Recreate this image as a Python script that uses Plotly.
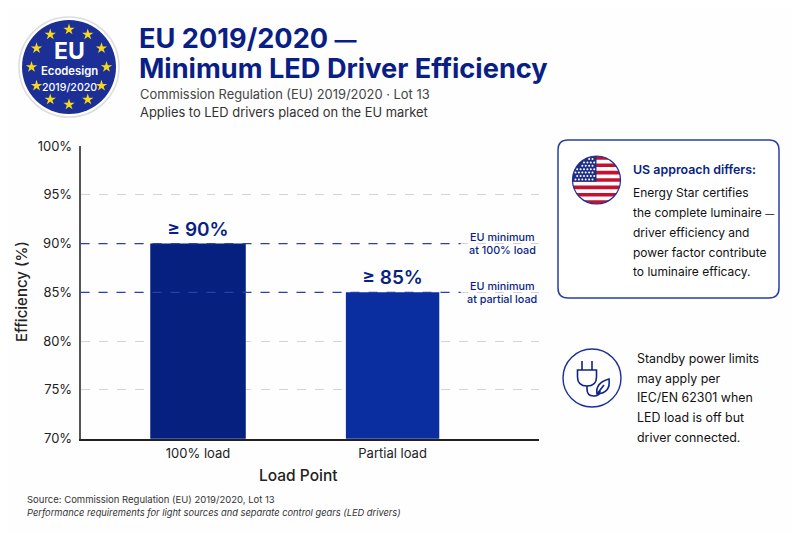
"""
EU 2019/2020 minimum LED driver efficiency chart with logo, flag and side notes.
"""
import math
import plotly.graph_objects as go

# Chart data
load_points = ["100% load", "Partial load"]
min_efficiency = [90, 85]
value_labels = ["≥ 90%", "≥ 85%"]
bar_colors = ["#06207f", "#0a2ea0"]
bar_widths = [0.491, 0.48]
y_ticks = [70, 75, 80, 85, 90, 95, 100]
y_tick_labels = ["70%", "75%", "80%", "85%", "90%", "95%", "100%"]
threshold_names = [["EU minimum", "at 100% load"], ["EU minimum", "at partial load"]]

# Texts
title_lines = ['EU 2019/2020 <span style="font-size:22px">—</span>', "Minimum LED Driver Efficiency"]
subtitle_lines = ["Commission Regulation (EU) 2019/2020 · Lot 13",
                  "Applies to LED drivers placed on the EU market"]
us_title = "US approach differs:"
us_lines = ["Energy Star certifies", 'the complete luminaire <span style="font-size:9px">—</span>',
            "driver efficiency and", "power factor contribute", "to luminaire efficacy."]
standby_lines = ["Standby power limits", "may apply per", "IEC/EN 62301 when",
                 "LED load is off but", "driver connected."]
source_text = "Source: Commission Regulation (EU) 2019/2020, Lot 13"
note_text = "Performance requirements for light sources and separate control gears (LED drivers)"

NAVY = "#0a1f85"
FONT = "Inter"
# the page body has an 8px margin, so the figure is 8px smaller and everything below
# is written in window pixels
PAGE_W, PAGE_H, OFFSET = 800, 533, 8
W, H = PAGE_W - OFFSET, PAGE_H - OFFSET

fig = go.Figure()

fig.add_trace(go.Bar(
    x=load_points, y=min_efficiency, width=bar_widths,
    marker=dict(color=bar_colors, line=dict(width=0)),
    text=value_labels, textposition="outside", cliponaxis=False,
    textfont=dict(family=FONT, size=19, color=NAVY, weight=600),
    hoverinfo="skip", showlegend=False,
))


def text(x, y, s, size, color="#111111", weight=400, anchor="left", italic=False, angle=0):
    """Place a text in window pixels (overlay axes run in pixels)."""
    fig.add_annotation(
        x=x, y=y, xref="x2", yref="y2", text=s, showarrow=False, xanchor=anchor,
        yanchor="middle", borderpad=0, textangle=angle,
        font=dict(family=FONT, size=size, color=color, weight=weight,
                  style="italic" if italic else "normal"),
    )


def circle(cx, cy, r, **kwargs):
    fig.add_shape(type="circle", xref="x2", yref="y2", x0=cx - r, x1=cx + r,
                  y0=cy - r, y1=cy + r, **kwargs)


def path(d, **kwargs):
    fig.add_shape(type="path", xref="x2", yref="y2", path=d, **kwargs)


# Threshold lines
for value in min_efficiency:
    fig.add_shape(type="line", xref="x domain", yref="y", x0=0, x1=0.83, y0=value, y1=value,
                  line=dict(color="#2a3fae", width=1.3, dash="dash"), layer="above")
for names, y_top in zip(threshold_names, [237, 286]):
    text(502, y_top, names[0], 10.8, NAVY, 500, "center")
    text(502, y_top + 13.5, names[1], 10.8, NAVY, 500, "center")

# Header texts
text(138, 38, title_lines[0], 27.2, NAVY, 700)
text(138, 68, title_lines[1], 27.2, NAVY, 700)
text(139, 94, subtitle_lines[0], 12.9, "#444444")
text(139, 112.5, subtitle_lines[1], 12.9, "#333333")

# EU logo
circle(69, 67, 50, fillcolor="#ffffff", line=dict(color="#dddddd", width=1.5), layer="below")
circle(69, 67, 47, fillcolor="#1c2f97", line=dict(width=0), layer="below")
star_x = [69 + 37.5 * math.sin(math.radians(30 * i)) for i in range(12)]
star_y = [67 - 37.5 * math.cos(math.radians(30 * i)) for i in range(12)]
fig.add_trace(go.Scatter(
    x=star_x, y=star_y, xaxis="x2", yaxis="y2", mode="markers",
    marker=dict(symbol="star", size=8.5, color="#f7d917", line=dict(width=0)),
    hoverinfo="skip", showlegend=False,
))
text(69, 51, "EU", 23, "#ffffff", 700, "center")
text(69, 70.5, "Ecodesign", 11.3, "#ffffff", 600, "center")
text(69, 87, "2019/2020", 10.6, "#ffffff", 500, "center")

# US card
x0, x1, y0, y1, rad = 558, 779, 140, 298, 10
path(f"M{x0 + rad},{y0} L{x1 - rad},{y0} Q{x1},{y0} {x1},{y0 + rad} L{x1},{y1 - rad} "
     f"Q{x1},{y1} {x1 - rad},{y1} L{x0 + rad},{y1} Q{x0},{y1} {x0},{y1 - rad} "
     f"L{x0},{y0 + rad} Q{x0},{y0} {x0 + rad},{y0} Z",
     fillcolor="#ffffff", line=dict(color="#2a3fa5", width=1.5), layer="below")

# US flag: stripes cut to a circle
fx, fy, fr = 596.5, 180, 24
circle(fx, fy, fr, fillcolor="#ffffff", line=dict(width=0), layer="below")


def chord_band(top, bottom, right_limit=None, steps=8):
    """Polygon of the part of the flag disc between two heights."""
    ys = [top + (bottom - top) * i / steps for i in range(steps + 1)]
    half = [math.sqrt(max(fr ** 2 - (v - fy) ** 2, 0)) for v in ys]
    right = [(min(fx + h, right_limit) if right_limit else fx + h, v) for h, v in zip(half, ys)]
    left = [(fx - h, v) for h, v in zip(half, ys)]
    pts = right + left[::-1]
    return "M" + " L".join(f"{a:.2f},{b:.2f}" for a, b in pts) + " Z"


stripe = 2 * fr / 13
for i in range(0, 13, 2):
    path(chord_band(fy - fr + i * stripe, fy - fr + (i + 1) * stripe),
         fillcolor="#c8102e", line=dict(width=0), layer="below")
path(chord_band(fy - fr, fy - fr + 7 * stripe, right_limit=fx),
     fillcolor="#1f2f86", line=dict(width=0), layer="below")
circle(fx, fy, fr, line=dict(color="#1c2f97", width=1.2), layer="below")
canton_x, canton_y = [], []
for row in range(7):
    for col in range(7):
        cx = fx - 21 + col * 3.4 + (1.7 if row % 2 else 0)
        cy = fy - 21 + row * 3.4
        if math.hypot(cx - fx, cy - fy) < fr - 1.5 and cx < fx - 0.8:
            canton_x.append(cx)
            canton_y.append(cy)
fig.add_trace(go.Scatter(
    x=canton_x, y=canton_y, xaxis="x2", yaxis="y2", mode="markers",
    marker=dict(size=2, color="#ffffff", line=dict(width=0)),
    hoverinfo="skip", showlegend=False,
))

text(632, 169, us_title, 12.4, NAVY, 600)
for line, y in zip(us_lines, [192, 212, 232, 252, 271.5]):
    text(632, y, line, 12)

# Standby icon
circle(592, 378, 29, line=dict(color="#1c2f97", width=1.4), layer="below")
icon = dict(line=dict(color="#0f2288", width=1.6), layer="below")
path("M582,361 L582,370", **icon)
path("M592,361 L592,370", **icon)
path("M577.5,370 L596.5,370 L596.5,377 Q596.5,386 587,386 Q577.5,386 577.5,377 Z", **icon)
path("M587,386 L587,389 Q587,396 593.5,396 Q600,396 600,391", **icon)
path("M597,394 Q595,383 609,379 Q611,393 597,394 Z", **icon)
path("M597,394 L604,385", **icon)
for line, y in zip(standby_lines, [358.5, 378.5, 397.5, 417.5, 437]):
    text(635.5, y, line, 12.4)

# Axis titles and footer
text(21, 292, "Efficiency (%)", 15, "#222222", 500, "center", angle=-90)
text(298, 475.5, "Load Point", 15.5, "#222222", 500, "center")
text(25.5, 499, source_text, 9.5, "#333333")
text(25.5, 512, note_text, 9.3, "#333333", italic=True)

fig.update_layout(
    width=W, height=H, margin=dict(l=0, r=0, t=0, b=0, autoexpand=False),
    paper_bgcolor="#fefefe", plot_bgcolor="rgba(0,0,0,0)",
    xaxis=dict(domain=[(80.5 - OFFSET) / W, (538.5 - OFFSET) / W], range=[-0.604, 1.75],
               type="category", showline=True, linecolor="#222222", linewidth=1.5, ticks="",
               showgrid=False, tickfont=dict(family=FONT, size=13, color="#222222"),
               ticklabelstandoff=2, automargin=False),
    yaxis=dict(domain=[(PAGE_H - 438.7) / H, (PAGE_H - 146) / H], range=[70, 100],
               tickvals=y_ticks, ticktext=y_tick_labels, showline=True,
               linecolor="#555555", linewidth=1.5, ticks="", griddash="dash",
               gridcolor="#d4d4d4", gridwidth=1, zeroline=False,
               tickfont=dict(family=FONT, size=13, color="#222222"), ticklabelstandoff=4,
               automargin=False),
    xaxis2=dict(domain=[0, 1], range=[OFFSET, PAGE_W], anchor="y2", visible=False,
                fixedrange=True, automargin=False),
    yaxis2=dict(domain=[0, 1], range=[PAGE_H, OFFSET], anchor="x2", visible=False,
                fixedrange=True, automargin=False),
    showlegend=False,
)

fig.write_html("out.html")
